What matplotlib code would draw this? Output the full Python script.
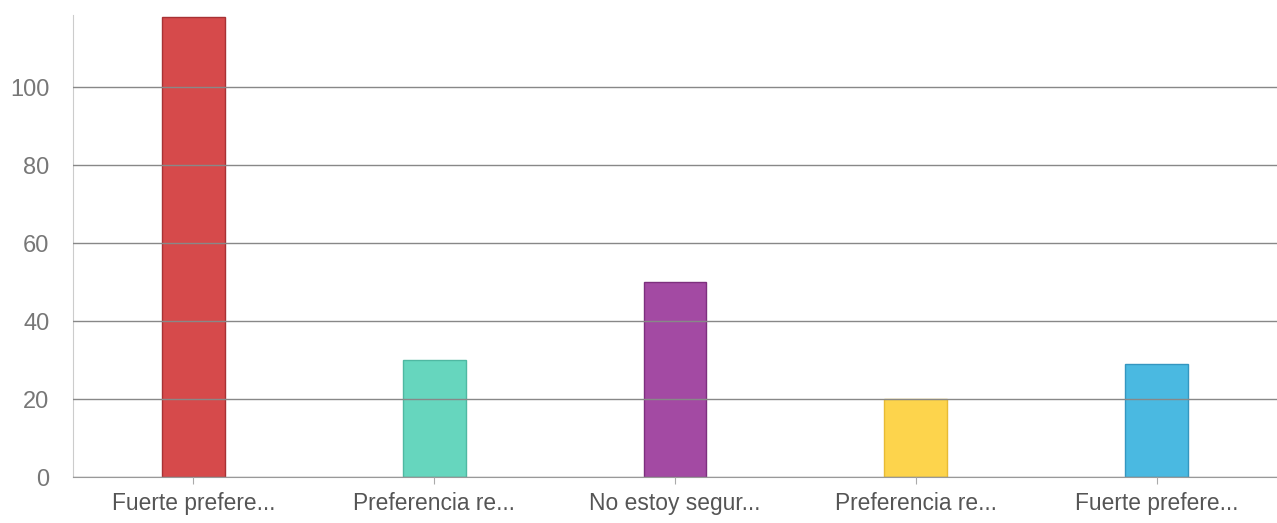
import matplotlib.pyplot as plt

categories = ["Fuerte prefere...", "Preferencia re...", "No estoy segur...",
              "Preferencia re...", "Fuerte prefere..."]
values = [118, 30, 50, 20, 29]
colors = ["#d64a4b", "#66d6be", "#a34aa3", "#fdd44c", "#4ab9e1"]
edges = ["#a83234", "#4fb8a2", "#7d2f7e", "#e8bb34", "#3496c0"]

plt.rcParams['font.family'] = ['Liberation Sans', 'DejaVu Sans']

fig = plt.figure(figsize=(12.77, 5.23), dpi=100)
ax = fig.add_axes([73 / 1277, 46 / 523, 1 - 73 / 1277, (477 - 15) / 523])

x = range(len(categories))
ax.bar(x, values, width=0.26, color=colors, edgecolor=edges, linewidth=1, zorder=1)

ax.set_xlim(-0.5, len(categories) - 0.5)
ax.set_ylim(0, 118.5)
ax.set_yticks([0, 20, 40, 60, 80, 100])
ax.yaxis.grid(True, color="#888888", linewidth=1, zorder=2)
ax.set_axisbelow(False)

ax.set_xticks(list(x))
ax.set_xticklabels(categories)
ax.tick_params(axis='x', length=5, color="#aaaaaa", colors="#555555", labelsize=16.4, pad=6)
ax.tick_params(axis='y', length=0, colors="#777777", labelsize=17, pad=17)

for s in ["top", "right"]:
    ax.spines[s].set_visible(False)
ax.spines["left"].set_color("#cccccc")
ax.spines["bottom"].set_color("#999999")

fig.savefig("out.png", dpi=100)
